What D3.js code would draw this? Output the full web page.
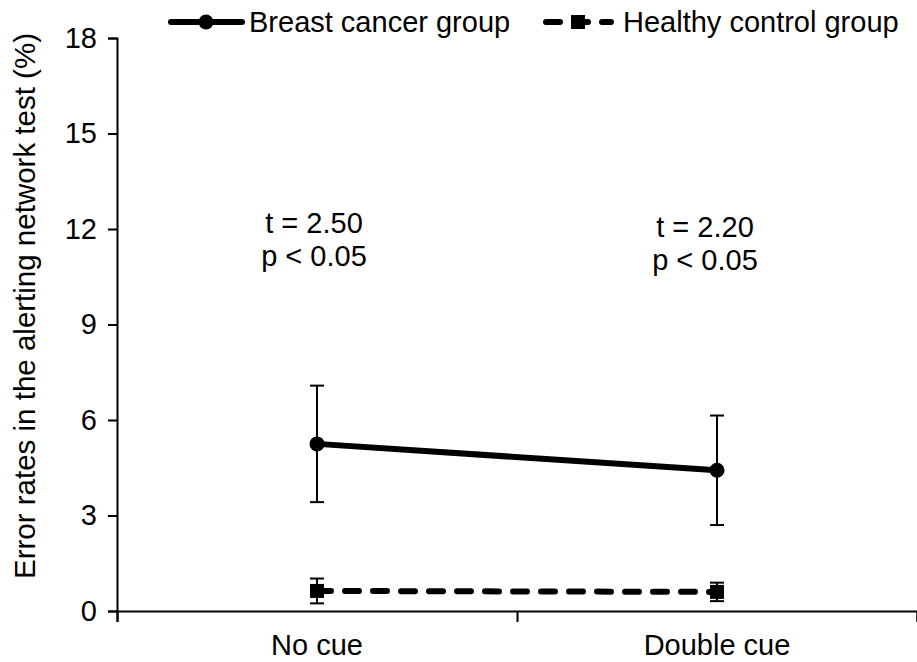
<!DOCTYPE html>
<html lang="en">
  <head>
    <meta charset="UTF-8" />
    <title>Error rates in the alerting network test</title>
    <script src="https://d3js.org/d3.v7.min.js"></script>
    <style>
      body { margin: 0; background: #fff; }
      svg { display: block; font-family: "Liberation Sans", Arial, sans-serif; }
    </style>
  </head>
  <body>
    <div class="chart"></div>
  </body>

  <script>
    // data
    var categories = ["No cue", "Double cue"];
    var seriesNames = ["Breast cancer group", "Healthy control group"];
    var cancerMean = [5.25, 4.42];
    var cancerErr = [1.83, 1.72];
    var healthyMean = [0.63, 0.6];
    var healthyErr = [0.39, 0.29];
    var yTicks = [0, 3, 6, 9, 12, 15, 18];
    var statT = ["t = 2.50", "t = 2.20"];
    var statP = ["p < 0.05", "p < 0.05"];

    var W = 917, H = 662;
    var plot = { left: 117, right: 917, top: 38, bottom: 611 };

    var svg = d3.select(".chart").append("svg")
      .attr("width", W)
      .attr("height", H);

    var x = d3.scaleBand().domain(categories).range([plot.left, plot.right]).padding(0);
    var y = d3.scaleLinear().domain([0, 18]).range([plot.bottom, plot.top]);
    var cx = function (c) { return x(c) + x.bandwidth() / 2; };

    // y axis
    var yAxis = d3.axisLeft(y).tickValues(yTicks).tickSize(9).tickPadding(11);
    var gy = svg.append("g").attr("transform", "translate(" + plot.left + ",0)").call(yAxis);
    gy.select(".domain").attr("stroke", "#000").attr("stroke-width", 2);
    gy.selectAll(".tick line").attr("stroke", "#000").attr("stroke-width", 2);
    gy.selectAll(".tick text").attr("font-size", 29).attr("font-family", "Liberation Sans, Arial, sans-serif").attr("fill", "#000");

    // x axis: ticks on the category boundaries
    var xb = d3.scaleLinear().domain([0, categories.length]).range([plot.left, plot.right]);
    var xAxis = d3.axisBottom(xb).ticks(categories.length).tickSize(11).tickFormat("");
    var gx = svg.append("g").attr("transform", "translate(0," + plot.bottom + ")").call(xAxis);
    gx.select(".domain").attr("stroke", "#000").attr("stroke-width", 2);
    gx.selectAll(".tick line").attr("stroke", "#000").attr("stroke-width", 2);

    svg.append("g").selectAll("text")
      .data(categories)
      .enter().append("text")
      .attr("x", cx)
      .attr("y", 655)
      .attr("text-anchor", "middle")
      .attr("font-size", 29)
      .text(function (d) { return d; });

    // y title
    svg.append("text")
      .attr("transform", "translate(35,306) rotate(-90)")
      .attr("text-anchor", "middle")
      .attr("font-size", 29.5)
      .text("Error rates in the alerting network test (%)");

    var line = d3.line().x(function (d) { return cx(d.c); }).y(function (d) { return y(d.v); });

    function series(means, errs) {
      return categories.map(function (c, i) { return { c: c, v: means[i], e: errs[i] }; });
    }
    var cancer = series(cancerMean, cancerErr);
    var healthy = series(healthyMean, healthyErr);

    // lines
    svg.append("path").datum(cancer)
      .attr("d", line).attr("fill", "none").attr("stroke", "#000").attr("stroke-width", 6);
    svg.append("path").datum(healthy)
      .attr("d", line).attr("fill", "none").attr("stroke", "#000").attr("stroke-width", 6)
      .attr("stroke-dasharray", "14,14").attr("stroke-linecap", "round");

    // error bars
    function errorBars(data) {
      var g = svg.append("g").attr("stroke", "#000").attr("stroke-width", 2);
      data.forEach(function (d) {
        var px = cx(d.c);
        g.append("line").attr("x1", px).attr("x2", px).attr("y1", y(d.v - d.e)).attr("y2", y(d.v + d.e));
        [d.v - d.e, d.v + d.e].forEach(function (v) {
          g.append("line").attr("x1", px - 7).attr("x2", px + 7).attr("y1", y(v)).attr("y2", y(v));
        });
      });
    }
    errorBars(cancer);
    errorBars(healthy);

    // markers
    svg.append("g").selectAll("circle").data(cancer).enter().append("circle")
      .attr("cx", function (d) { return cx(d.c); })
      .attr("cy", function (d) { return y(d.v); })
      .attr("r", 7.5);
    svg.append("g").selectAll("rect").data(healthy).enter().append("rect")
      .attr("x", function (d) { return cx(d.c) - 7; })
      .attr("y", function (d) { return y(d.v) - 7; })
      .attr("width", 14).attr("height", 14);

    // statistics
    var stats = svg.append("g").attr("font-size", 29).attr("text-anchor", "middle");
    var statX = [314, 705];
    var statY = [233, 237];
    statT.forEach(function (t, i) {
      stats.append("text").attr("x", statX[i]).attr("y", statY[i]).text(t);
      stats.append("text").attr("x", statX[i]).attr("y", statY[i] + 33).text(statP[i]);
    });

    // legend
    var lg = svg.append("g").attr("font-size", 29);
    lg.append("line").attr("x1", 171).attr("x2", 242).attr("y1", 22).attr("y2", 22)
      .attr("stroke", "#000").attr("stroke-width", 6).attr("stroke-linecap", "round");
    lg.append("circle").attr("cx", 206).attr("cy", 22).attr("r", 7.5);
    lg.append("text").attr("x", 249).attr("y", 32).text(seriesNames[0]);

    lg.append("line").attr("x1", 546).attr("x2", 611).attr("y1", 22).attr("y2", 22)
      .attr("stroke", "#000").attr("stroke-width", 6)
      .attr("stroke-dasharray", "14,14").attr("stroke-linecap", "round");
    lg.append("rect").attr("x", 571).attr("y", 15).attr("width", 14).attr("height", 14);
    lg.append("text").attr("x", 623).attr("y", 32).text(seriesNames[1]);
  </script>
</html>
